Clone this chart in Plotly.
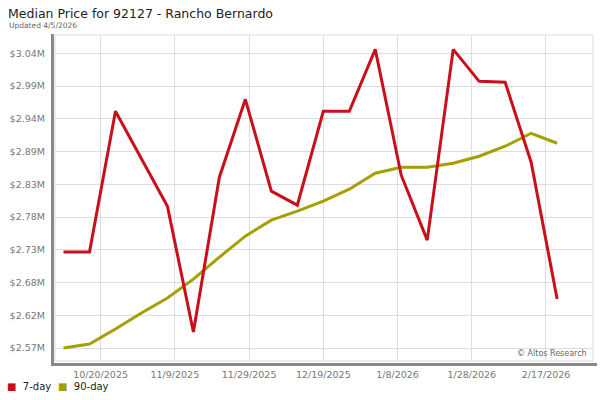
import plotly.graph_objects as go

dates = ["2025-10-10", "2025-10-17", "2025-10-24", "2025-10-31", "2025-11-07",
         "2025-11-14", "2025-11-21", "2025-11-28", "2025-12-05", "2025-12-12",
         "2025-12-19", "2025-12-26", "2026-01-02", "2026-01-09", "2026-01-16",
         "2026-01-23", "2026-01-30", "2026-02-06", "2026-02-13", "2026-02-20"]

price_7day = [2725800, 2725800, 2951600, 2875500, 2799400,
              2597600, 2845900, 2970800, 2823500, 2801000,
              2951600, 2951600, 3050900, 2849100, 2745000,
              3050900, 2999600, 2998000, 2869900, 2650500]

price_90day = [2572000, 2578400, 2602400, 2628100, 2652100,
               2682500, 2717700, 2751400, 2777000, 2791400,
               2807400, 2826700, 2852300, 2861900, 2861900,
               2868300, 2879500, 2895500, 2916300, 2900300]

y_tick_vals = [2572000, 2624500, 2677000, 2729500, 2782000,
               2834500, 2887000, 2939500, 2992000, 3044500]
y_tick_text = ["$2.57M", "$2.62M", "$2.68M", "$2.73M", "$2.78M",
               "$2.83M", "$2.89M", "$2.94M", "$2.99M", "$3.04M"]

x_tick_vals = ["2025-10-20", "2025-11-09", "2025-11-29", "2025-12-19",
               "2026-01-08", "2026-01-28", "2026-02-17"]
x_tick_text = ["10/20/2025", "11/9/2025", "11/29/2025", "12/19/2025",
               "1/8/2026", "1/28/2026", "2/17/2026"]

RED = "#c8101a"
OLIVE = "#a69f00"
FONT = "DejaVu Sans"

L, R, T, B = 55, 7, 35, 39
PW, PH = 600 - L - R, 400 - T - B


def px(x):
    return (x - L) / PW


def py(y):
    return (400 - B - y) / PH


fig = go.Figure()
fig.add_trace(go.Scatter(x=dates, y=price_90day, mode="lines", name="90-day",
                         line=dict(color=OLIVE, width=3), showlegend=False))
fig.add_trace(go.Scatter(x=dates, y=price_7day, mode="lines", name="7-day",
                         line=dict(color=RED, width=3), showlegend=False))

fig.update_layout(
    width=600, height=400,
    margin=dict(l=L, r=R, t=T, b=B, autoexpand=False),
    paper_bgcolor="white", plot_bgcolor="white",
    font=dict(family=FONT, color="#666666"),
    showlegend=False,
)
fig.update_xaxes(
    range=["2025-10-07 17:00", "2026-03-01 16:00"],
    tickvals=x_tick_vals, ticktext=x_tick_text,
    tickfont=dict(size=9.5, color="#777777"),
    showgrid=True, gridcolor="#dddddd", gridwidth=1,
    zeroline=False, showline=False, ticks="", ticklen=0,
    ticklabelstandoff=6,
)
fig.update_yaxes(
    range=[2551150, 3073900],
    tickvals=y_tick_vals, ticktext=y_tick_text,
    tickfont=dict(size=9.5, color="#777777"),
    showgrid=True, gridcolor="#dddddd", gridwidth=1,
    zeroline=False, showline=False, ticks="", ticklen=0,
    ticklabelstandoff=9,
)

# plot border (light) and heavy grey axis frame
fig.add_shape(type="rect", xref="paper", yref="paper", x0=0, x1=1, y0=0, y1=1,
              line=dict(color="#dddddd", width=1), layer="below")
fig.add_shape(type="line", xref="paper", yref="paper",
              x0=px(52.5), x1=px(52.5), y0=py(366), y1=py(34),
              line=dict(color="#888888", width=3))
fig.add_shape(type="line", xref="paper", yref="paper",
              x0=px(51), x1=px(597), y0=py(364.5), y1=py(364.5),
              line=dict(color="#888888", width=3))

fig.add_annotation(text="Median Price for 92127 - Rancho Bernardo",
                   xref="paper", yref="paper", x=px(6), y=py(4),
                   xanchor="left", yanchor="top", showarrow=False,
                   font=dict(size=12.5, color="#222222", family=FONT))
fig.add_annotation(text="Updated 4/5/2026",
                   xref="paper", yref="paper", x=px(7), y=py(19),
                   xanchor="left", yanchor="top", showarrow=False,
                   font=dict(size=7.5, color="#666666", family=FONT))
fig.add_annotation(text="© Altos Research",
                   xref="paper", yref="paper", x=px(589), y=py(353),
                   xanchor="right", yanchor="middle", showarrow=False,
                   font=dict(size=8, color="#666666", family=FONT))

# legend
fig.add_annotation(text="<span style='color:%s'>■</span>  7-day" % RED,
                   xref="paper", yref="paper", x=px(5), y=py(386),
                   xanchor="left", yanchor="middle", showarrow=False,
                   font=dict(size=10, color="#222222", family=FONT))
fig.add_annotation(text="<span style='color:%s'>■</span>  90-day" % OLIVE,
                   xref="paper", yref="paper", x=px(56), y=py(386),
                   xanchor="left", yanchor="middle", showarrow=False,
                   font=dict(size=10, color="#222222", family=FONT))

fig.write_html("out.html",
               config={"displayModeBar": False},
               post_script="document.body.style.margin='0';"
                           "document.body.style.overflow='hidden';")
